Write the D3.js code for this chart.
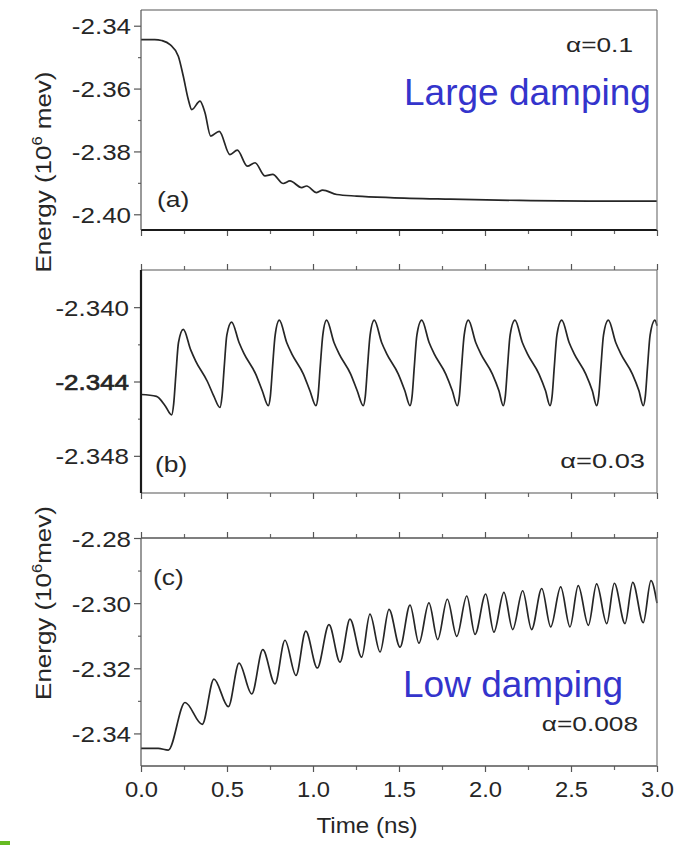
<!DOCTYPE html>
<html>
<head>
<meta charset="utf-8">
<script src="https://cdn.jsdelivr.net/npm/d3@7"></script>
<style>
  html, body { margin: 0; padding: 0; background: #fff; }
  svg { display: block; }
</style>
</head>
<body>
<svg id="chart" width="686" height="845"></svg>
<script>
// ---- time axis (ns) ----
const timeMajorTicks = [0, 0.5, 1.0, 1.5, 2.0, 2.5, 3.0];
const timeMinorTicks = [0.25, 0.75, 1.25, 1.75, 2.25, 2.75];
const timeTickLabels = ["0.0", "0.5", "1.0", "1.5", "2.0", "2.5", "3.0"];

// ---- energy axes (10^6 meV) ----
const energyTicksA = [-2.34, -2.36, -2.38, -2.40];
const energyMinorA = [-2.35, -2.37, -2.39];
const energyLabelsA = ["-2.34", "-2.36", "-2.38", "-2.40"];

const energyTicksB = [-2.340, -2.344, -2.348];
const energyMinorB = [-2.342, -2.346];
const energyLabelsB = ["-2.340", "-2.344", "-2.348"];

const energyTicksC = [-2.28, -2.30, -2.32, -2.34];
const energyMinorC = [-2.29, -2.31, -2.33];
const energyLabelsC = ["-2.28", "-2.30", "-2.32", "-2.34"];

// ---- (a) alpha = 0.1 : [time, energy] ----
const seriesA = [
  [0.000, -2.3444], [0.080, -2.3444], [0.120, -2.3447], [0.169, -2.3460],
  [0.217, -2.3497], [0.246, -2.3561], [0.275, -2.3635], [0.295, -2.3667],
  [0.343, -2.3640], [0.372, -2.3677], [0.405, -2.3751], [0.455, -2.3736],
  [0.517, -2.3810], [0.560, -2.3796], [0.618, -2.3847], [0.663, -2.3836],
  [0.721, -2.3878], [0.766, -2.3873], [0.827, -2.3902], [0.866, -2.3894],
  [0.934, -2.3915], [0.963, -2.3910], [1.021, -2.3931], [1.056, -2.3923],
  [1.138, -2.3937], [1.254, -2.3942], [1.448, -2.3947], [1.800, -2.3952],
  [2.200, -2.3956], [2.600, -2.3958], [3.000, -2.3958]
];

// ---- (b) alpha = 0.03 : [time, energy] ----
const seriesB = [
  [0.000, -2.3447], [0.090, -2.3448], [0.140, -2.3453], [0.178, -2.3458],
  [0.190, -2.3452], [0.203, -2.3436], [0.218, -2.3419], [0.246, -2.3412],
  [0.289, -2.3423], [0.318, -2.3429], [0.386, -2.3440], [0.424, -2.3448],
  [0.459, -2.3454], [0.471, -2.3448], [0.484, -2.3432], [0.499, -2.3415],
  [0.527, -2.3408], [0.570, -2.3419], [0.599, -2.3425], [0.667, -2.3436], [0.705, -2.3445],
  [0.740, -2.3453], [0.752, -2.3448], [0.765, -2.3432], [0.780, -2.3415],
  [0.804, -2.3407], [0.847, -2.3419], [0.876, -2.3425], [0.944, -2.3436], [0.982, -2.3445],
  [1.017, -2.3453], [1.029, -2.3448], [1.042, -2.3432], [1.057, -2.3415],
  [1.079, -2.3407], [1.122, -2.3419], [1.151, -2.3425], [1.219, -2.3436], [1.257, -2.3445],
  [1.292, -2.3453], [1.304, -2.3448], [1.317, -2.3432], [1.332, -2.3415],
  [1.356, -2.3407], [1.399, -2.3419], [1.428, -2.3425], [1.496, -2.3436], [1.534, -2.3445],
  [1.564, -2.3453], [1.576, -2.3448], [1.589, -2.3432], [1.604, -2.3415],
  [1.632, -2.3407], [1.675, -2.3419], [1.704, -2.3425], [1.772, -2.3436], [1.810, -2.3445],
  [1.839, -2.3453], [1.851, -2.3448], [1.864, -2.3432], [1.879, -2.3415],
  [1.903, -2.3407], [1.946, -2.3419], [1.975, -2.3425], [2.043, -2.3436], [2.081, -2.3445],
  [2.106, -2.3453], [2.118, -2.3448], [2.131, -2.3432], [2.146, -2.3415],
  [2.174, -2.3407], [2.217, -2.3419], [2.246, -2.3425], [2.314, -2.3436], [2.352, -2.3445],
  [2.378, -2.3453], [2.390, -2.3448], [2.403, -2.3432], [2.418, -2.3415],
  [2.446, -2.3407], [2.489, -2.3419], [2.518, -2.3425], [2.586, -2.3436], [2.624, -2.3445],
  [2.649, -2.3453], [2.661, -2.3448], [2.674, -2.3432], [2.689, -2.3415],
  [2.717, -2.3407], [2.760, -2.3419], [2.789, -2.3425], [2.857, -2.3436], [2.895, -2.3445],
  [2.920, -2.3453], [2.932, -2.3448], [2.945, -2.3432], [2.960, -2.3415],
  [2.988, -2.3407], [3.000, -2.3410]
];

// ---- (c) alpha = 0.008 : [time, energy] ----
const seriesC = [
  [0.000, -2.3446], [0.100, -2.3446], [0.159, -2.3451], [0.256, -2.3305],
  [0.356, -2.3372], [0.424, -2.3233], [0.508, -2.3318], [0.570, -2.3184],
  [0.644, -2.3279], [0.708, -2.3143], [0.779, -2.3248], [0.837, -2.3114],
  [0.901, -2.3222], [0.958, -2.3086], [1.025, -2.3199], [1.093, -2.3066],
  [1.157, -2.3181], [1.215, -2.3049], [1.283, -2.3166], [1.331, -2.3034],
  [1.390, -2.3150], [1.442, -2.3019], [1.506, -2.3135], [1.564, -2.3006],
  [1.616, -2.3123], [1.674, -2.2999], [1.725, -2.3112], [1.781, -2.2988],
  [1.836, -2.3102], [1.894, -2.2978], [1.942, -2.3096], [2.004, -2.2972],
  [2.052, -2.3089], [2.110, -2.2967], [2.161, -2.3081], [2.219, -2.2962],
  [2.271, -2.3081], [2.330, -2.2955], [2.382, -2.3073], [2.440, -2.2950],
  [2.494, -2.3073], [2.542, -2.2946], [2.601, -2.3068], [2.649, -2.2941],
  [2.708, -2.3063], [2.752, -2.2939], [2.814, -2.3063], [2.859, -2.2936],
  [2.920, -2.3060], [2.965, -2.2931], [3.000, -2.3000]
];

// ---- drawing ----
const FONT = "'Liberation Sans', Arial, Helvetica, sans-serif";
const INK = "#262626";
const svg = d3.select("#chart");
svg.append("rect").attr("width", 686).attr("height", 845).attr("fill", "#fff");

const x = d3.scaleLinear().domain([0, 3]).range([141, 657]);

// text helper with horizontal stretch
function label(parent, px, py, str, size, anchor, sx, color) {
  return parent.append("text")
    .attr("transform", `translate(${px},${py}) scale(${sx},1)`)
    .attr("text-anchor", anchor)
    .attr("font-family", FONT)
    .attr("font-size", size)
    .attr("fill", color || INK)
    .text(str);
}

function drawPanel(cfg) {
  const y = d3.scaleLinear().domain(cfg.domain).range([cfg.bottom, cfg.top]);
  const g = svg.append("g");

  // curve
  g.append("path")
    .datum(cfg.series)
    .attr("fill", "none")
    .attr("stroke", "#262626")
    .attr("stroke-width", 1.7)
    .attr("stroke-linejoin", "round")
    .attr("d", d3.line().x(d => x(d[0])).y(d => y(d[1])).curve(d3.curveMonotoneX));

  // left axis: major ticks with labels
  const left = g.append("g").attr("transform", `translate(${x(0)},0)`)
    .call(d3.axisLeft(y).tickValues(cfg.major).tickSize(7)
      .tickFormat((d, i) => cfg.labels[i]));
  left.select(".domain").remove();
  left.selectAll(".tick line").attr("stroke", "#555").attr("stroke-width", 1.2);
  left.selectAll(".tick text")
    .attr("x", null).attr("dy", null)
    .attr("transform", `translate(${cfg.labelEnd - x(0)},8) scale(1.18,1)`)
    .attr("font-family", FONT).attr("font-size", 22).attr("fill", INK);
  if (cfg.boldLabel) {
    left.selectAll(".tick text").filter(d => d === cfg.boldLabel)
      .attr("stroke", INK).attr("stroke-width", 0.7);
  }

  // left axis: minor ticks
  const leftMinor = g.append("g").attr("transform", `translate(${x(0)},0)`)
    .call(d3.axisLeft(y).tickValues(cfg.minor).tickSize(3).tickFormat(""));
  leftMinor.select(".domain").remove();
  leftMinor.selectAll(".tick line").attr("stroke", "#666").attr("stroke-width", 1.2);

  // time ticks on top / bottom edges
  function timeTicks(axisFn, yPos, withLabels) {
    const maj = g.append("g").attr("transform", `translate(0,${yPos})`)
      .call(axisFn(x).tickValues(timeMajorTicks).tickSize(6)
        .tickFormat(withLabels ? ((d, i) => timeTickLabels[i]) : ""));
    maj.select(".domain").remove();
    maj.selectAll(".tick line").attr("stroke", "#555").attr("stroke-width", 1.2);
    if (withLabels) {
      maj.selectAll(".tick text")
        .attr("y", null).attr("dy", null)
        .attr("transform", "translate(0,31) scale(1.08,1)")
        .attr("font-family", FONT).attr("font-size", 22).attr("fill", INK);
    }
    const mnr = g.append("g").attr("transform", `translate(0,${yPos})`)
      .call(axisFn(x).tickValues(timeMinorTicks).tickSize(4).tickFormat(""));
    mnr.select(".domain").remove();
    mnr.selectAll(".tick line").attr("stroke", "#666").attr("stroke-width", 1.2);
  }
  if (cfg.topTicks) timeTicks(d3.axisTop, cfg.top, false);
  timeTicks(d3.axisBottom, cfg.bottom, cfg.bottomLabels);

  // frame
  const edge = (x1, y1, x2, y2, w, c) => g.append("line")
    .attr("x1", x1).attr("y1", y1).attr("x2", x2).attr("y2", y2)
    .attr("stroke", c).attr("stroke-width", w);
  edge(x(0), cfg.top, x(3), cfg.top, cfg.topW, "#555");
  edge(x(0), cfg.bottom, x(3), cfg.bottom, cfg.bottomW, cfg.bottomW > 1.5 ? "#1a1a1a" : "#555");
  edge(x(0), cfg.top, x(0), cfg.bottom, cfg.leftW, cfg.leftW > 1.5 ? "#1a1a1a" : "#555");
  edge(x(3), cfg.top, x(3), cfg.bottom, 1.2, "#777");

  return g;
}

const gA = drawPanel({
  series: seriesA, domain: [-2.405, -2.335], top: 10, bottom: 230,
  major: energyTicksA, minor: energyMinorA, labels: energyLabelsA, labelEnd: 131,
  topTicks: false, bottomLabels: false, topW: 1.2, bottomW: 2.2, leftW: 1.2
});
const gB = drawPanel({
  series: seriesB, domain: [-2.350, -2.338], top: 270, bottom: 493,
  major: energyTicksB, minor: energyMinorB, labels: energyLabelsB, labelEnd: 129,
  topTicks: true, bottomLabels: false, topW: 1.2, bottomW: 1.2, leftW: 2.2,
  boldLabel: -2.344
});
const gC = drawPanel({
  series: seriesC, domain: [-2.35, -2.28], top: 538, bottom: 766,
  major: energyTicksC, minor: energyMinorC, labels: energyLabelsC, labelEnd: 131,
  topTicks: true, bottomLabels: true, topW: 1.4, bottomW: 1.4, leftW: 1.2
});

// panel tags and damping parameters
label(gA, 157, 207, "(a)", 22, "start", 1.2);
label(gB, 155, 472, "(b)", 22, "start", 1.2);
label(gC, 153, 585, "(c)", 22, "start", 1.2);
label(gA, 633, 52, "α=0.1", 21, "end", 1.25);
label(gB, 645, 468, "α=0.03", 21, "end", 1.3);
label(gC, 638, 731, "α=0.008", 21, "end", 1.25);

// annotations
label(gA, 404, 105, "Large damping", 37, "start", 1, "#3434cc");
label(gC, 403, 697, "Low damping", 37, "start", 1, "#3434cc");

// axis titles
function energyTitle(cx, cy, gap) {
  const t = svg.append("text")
    .attr("transform", `translate(${cx},${cy}) rotate(-90) scale(1.18,1)`)
    .attr("text-anchor", "middle")
    .attr("font-family", FONT).attr("font-size", 22).attr("fill", INK);
  t.append("tspan").text("Energy (10");
  t.append("tspan").attr("dy", -9).attr("font-size", 14).text("6");
  t.append("tspan").attr("dy", 9).text(gap ? " mev)" : "mev)");
}
energyTitle(51, 172, true);
energyTitle(51, 603, false);

label(svg, 367, 833, "Time (ns)", 22, "middle", 1.1);

// small corner mark
svg.append("rect").attr("x", 0).attr("y", 841).attr("width", 10).attr("height", 4).attr("fill", "#66bb22");
</script>
</body>
</html>
